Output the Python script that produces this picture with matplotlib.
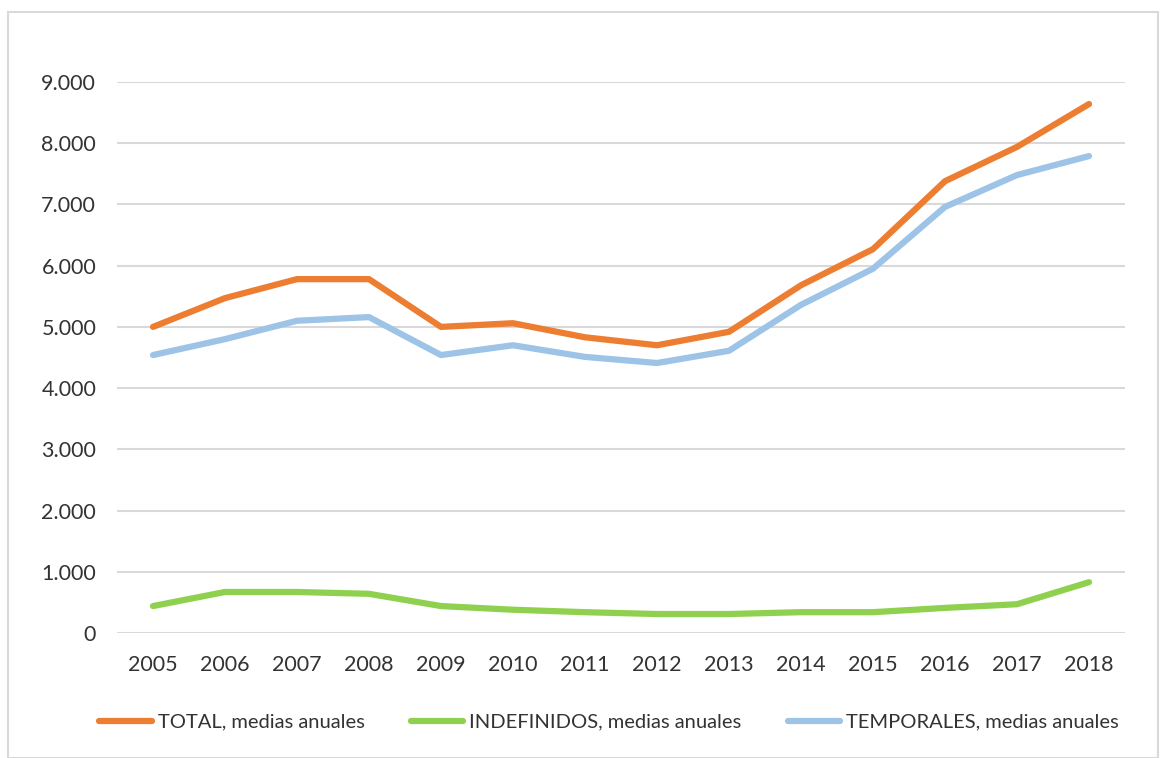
import matplotlib
matplotlib.use("Agg")
import matplotlib.pyplot as plt
from matplotlib.patches import Rectangle
from matplotlib.ticker import FuncFormatter

years = ["2005", "2006", "2007", "2008", "2009", "2010", "2011", "2012", "2013",
         "2014", "2015", "2016", "2017", "2018"]
total = [5000, 5470, 5780, 5780, 5000, 5060, 4830, 4700, 4920, 5680, 6270, 7380, 7940, 8640]
indefinidos = [440, 670, 670, 640, 440, 380, 340, 310, 310, 340, 340, 410, 470, 830]
temporales = [4540, 4800, 5100, 5160, 4540, 4700, 4510, 4410, 4610, 5360, 5950, 6960, 7480, 7790]
labels = ["TOTAL, medias anuales", "INDEFINIDOS, medias anuales", "TEMPORALES, medias anuales"]
colors = ["#ED7D31", "#8FD14F", "#9DC3E6"]

plt.rcParams['font.family'] = ['Lato', 'DejaVu Sans']

fig = plt.figure(figsize=(11.65, 7.58), dpi=100)
ax = fig.add_axes([117/1165, 1-633/758, (1125-117)/1165, (633-82)/758])

x = list(range(len(years)))
for vals, lab, c in zip([total, indefinidos, temporales], labels, colors):
    ax.plot(x, vals, color=c, lw=4.5, label=lab, solid_capstyle='round', solid_joinstyle='round')

ax.set_xlim(-0.5, len(years) - 0.5)
ax.set_ylim(0, 9000)
ax.set_yticks(range(0, 9001, 1000))
ax.yaxis.set_major_formatter(FuncFormatter(lambda v, p: f"{int(v):,}".replace(",", ".")))
ax.set_xticks(x)
ax.set_xticklabels(years)
ax.grid(axis='y', color='#D9D9D9', lw=1.5)
ax.set_axisbelow(True)
for s in ax.spines.values():
    s.set_visible(False)
ax.tick_params(axis='both', length=0, labelsize=15.5, colors='#333333')
ax.tick_params(axis='y', pad=15)
ax.tick_params(axis='x', pad=16)

leg = fig.legend(loc='center', bbox_to_anchor=(0.523, 1-722/758), ncol=3, frameon=False,
                 fontsize=14.5, handlelength=2.6, handletextpad=0.3, columnspacing=2.3)
for t in leg.get_texts():
    t.set_color('#333333')

fig.patches.append(Rectangle((8/1165, 0), 1150/1165, 1-12/758, transform=fig.transFigure,
                             fill=False, edgecolor='#D9D9D9', lw=1.5))

fig.savefig("out.png", dpi=100)
